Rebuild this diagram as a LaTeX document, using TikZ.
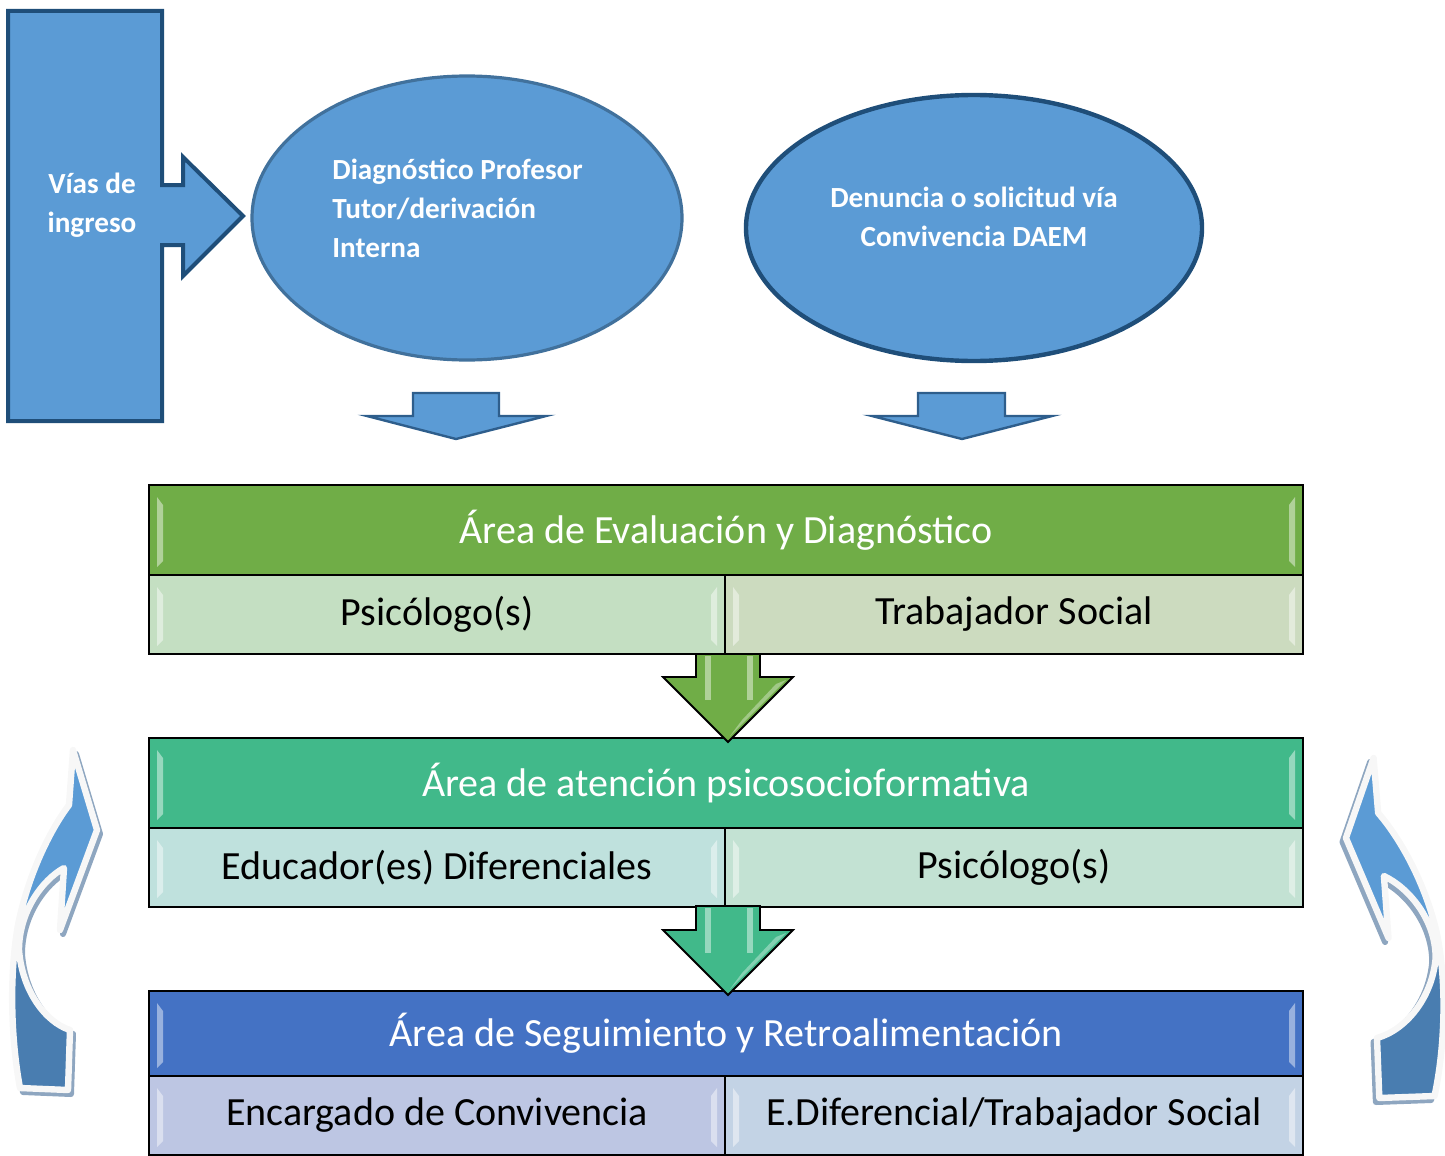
\documentclass[tikz,border=0pt]{standalone}
\usepackage{fontspec}
\setmainfont{Carlito}
\usetikzlibrary{shapes.geometric}
\definecolor{blu}{HTML}{5B9BD5}
\definecolor{bludark}{HTML}{1F4E79}
\definecolor{bluemid}{HTML}{41719C}
\definecolor{arrstroke}{HTML}{2E5E8C}
\definecolor{gA}{HTML}{70AD47}
\definecolor{gAl}{HTML}{C4DFC2}
\definecolor{gAr}{HTML}{CCDBBF}
\definecolor{tB}{HTML}{41B98A}
\definecolor{tBl}{HTML}{BFE1DD}
\definecolor{tBr}{HTML}{C3E2D3}
\definecolor{bC}{HTML}{4472C4}
\definecolor{bCl}{HTML}{BDC6E3}
\definecolor{bCr}{HTML}{C3D3E5}
\definecolor{cdark}{HTML}{497DB0}
\definecolor{shadowc}{HTML}{8EA6C0}

\newcommand\bevelstrips[4]{%
  \fill[white, opacity=0.45] ({#1+8},{#2+12}) -- ({#1+14},{#2+20}) -- ({#1+14},{#4-14}) -- ({#1+8},{#4-8}) -- cycle;
  \fill[white, opacity=0.45] ({#3-8},{#2+12}) -- ({#3-14},{#2+20}) -- ({#3-14},{#4-14}) -- ({#3-8},{#4-8}) -- cycle;
}
\newcommand\curvarrowpath{(73,750) -- (97,830) -- (60,930) -- (64,868) .. controls (42,880) and (19,912) .. (19,950) .. controls (22,990) and (45,1022) .. (70,1030) -- (68,1090) -- (20,1088) .. controls (11,1040) and (9,975) .. (18,925) .. controls (28,875) and (50,830) .. (69,805) -- cycle}
\newcommand\drawcurvarrow{%
  \begin{scope}[shift={(3,4)}]
    \filldraw[shadowc, line width=3pt, line join=round] \curvarrowpath;
  \end{scope}
  \fill[blu] \curvarrowpath;
  \begin{scope}
    \clip (-50,945) rectangle (200,1200);
    \fill[cdark] \curvarrowpath;
  \end{scope}
  \draw[white!94!gray, line width=3.2pt, line join=round] \curvarrowpath;
}

\begin{document}
\begin{tikzpicture}[x=0.5pt, y=-0.5pt,
  head/.style={draw=black, line width=1pt, inner sep=0pt, outer sep=0pt, anchor=north west,
    minimum width=577pt, minimum height=45pt, text=white, font=\fontsize{20}{24}\selectfont},
  cell/.style={draw=black, line width=1pt, inner sep=0pt, outer sep=0pt, anchor=north west,
    minimum height=39.5pt, text=black, font=\fontsize{20}{24}\selectfont},
  bubble/.style={ellipse, fill=blu, inner sep=0pt},
  btxt/.style={text=white, font=\bfseries\fontsize{14.6}{19.5}\selectfont, inner sep=0pt},
  smallarrow/.style={fill=blu, draw=arrstroke, line width=1.2pt, line join=miter},
  bigarrow/.style={draw=black, line width=0.9pt, line join=miter}
]
\useasboundingbox (0,0) rectangle (1445,1156);

% entry block with arrow
\filldraw[fill=blu, draw=bludark, line width=2pt]
  (8,11) -- (162,11) -- (162,185) -- (183,185) -- (183,157) -- (243,216) -- (183,276)
  -- (183,245) -- (162,245) -- (162,421) -- (8,421) -- cycle;
\node[btxt, align=center] (vias) at (92,205) {Vías de\\ingreso};

% ellipses
\node[bubble, draw=bluemid, line width=1.6pt, minimum width=215pt, minimum height=142pt] (e1) at (467,218) {};
\node[btxt, align=left, anchor=west] (e1t) at (332,208) {Diagnóstico Profesor\\Tutor/derivación\\Interna};
\node[bubble, draw=bludark, line width=2.2pt, minimum width=228pt, minimum height=133pt] (e2) at (974,228) {};
\node[btxt, align=center] (e2t) at (974,216.5) {Denuncia o solicitud vía\\Convivencia DAEM};

% small down arrows
\filldraw[smallarrow] (413,393) -- (499,393) -- (499,416) -- (546,416) -- (456,439) -- (367,416) -- (413,416) -- cycle;
\filldraw[smallarrow] (918,393) -- (1005,393) -- (1005,416) -- (1052,416) -- (962,439) -- (872,416) -- (918,416) -- cycle;

% table 1
\node[head, fill=gA] (h1) at (149,485) {Área de Evaluación y Diagnóstico};
\node[cell, fill=gAl, minimum width=288pt] (c1l) at (149,575) {Psicólogo(s)};
\node[cell, fill=gAr, minimum width=289pt] (c1r) at (725,575) {Trabajador Social};
\bevelstrips{149}{485}{1303}{575}
\bevelstrips{149}{575}{725}{654}
\bevelstrips{725}{575}{1303}{654}

% table 2
\node[head, fill=tB] (h2) at (149,738) {Área de atención psicosocioformativa};
\node[cell, fill=tBl, minimum width=288pt] (c2l) at (149,828) {Educador(es) Diferenciales};
\node[cell, fill=tBr, minimum width=289pt] (c2r) at (725,828) {Psicólogo(s)};
\bevelstrips{149}{738}{1303}{828}
\bevelstrips{149}{828}{725}{906}
\bevelstrips{725}{828}{1303}{906}

% table 3
\node[head, fill=bC, minimum height=42.5pt] (h3) at (149,991) {Área de Seguimiento y Retroalimentación};
\node[cell, fill=bCl, minimum width=288pt] (c3l) at (149,1076) {Encargado de Convivencia};
\node[cell, fill=bCr, minimum width=289pt] (c3r) at (725,1076) {E.Diferencial/Trabajador Social};
\bevelstrips{149}{991}{1303}{1076}
\bevelstrips{149}{1076}{725}{1155}
\bevelstrips{725}{1076}{1303}{1155}

% green arrow
\filldraw[bigarrow, fill=gA] (696,654) -- (760,654) -- (760,677) -- (793,677) -- (728,742) -- (663,677) -- (696,677) -- cycle;
\fill[white, opacity=0.45] (705,656) rectangle (711,700);
\fill[white, opacity=0.45] (747,656) rectangle (753,700);
\fill[white, opacity=0.35] (786,680) -- (730,736) -- (742,720) -- (776,684) -- cycle;
% teal arrow
\filldraw[bigarrow, fill=tB] (696,906) -- (760,906) -- (760,930) -- (793,930) -- (728,995) -- (663,930) -- (696,930) -- cycle;
\fill[white, opacity=0.45] (705,908) rectangle (711,953);
\fill[white, opacity=0.45] (747,908) rectangle (753,953);
\fill[white, opacity=0.35] (786,933) -- (730,989) -- (742,973) -- (776,937) -- cycle;

% curved arrows
\drawcurvarrow
\begin{scope}[shift={(1457.5,8)}, xscale=-1.15]
  \drawcurvarrow
\end{scope}
\end{tikzpicture}
\end{document}
